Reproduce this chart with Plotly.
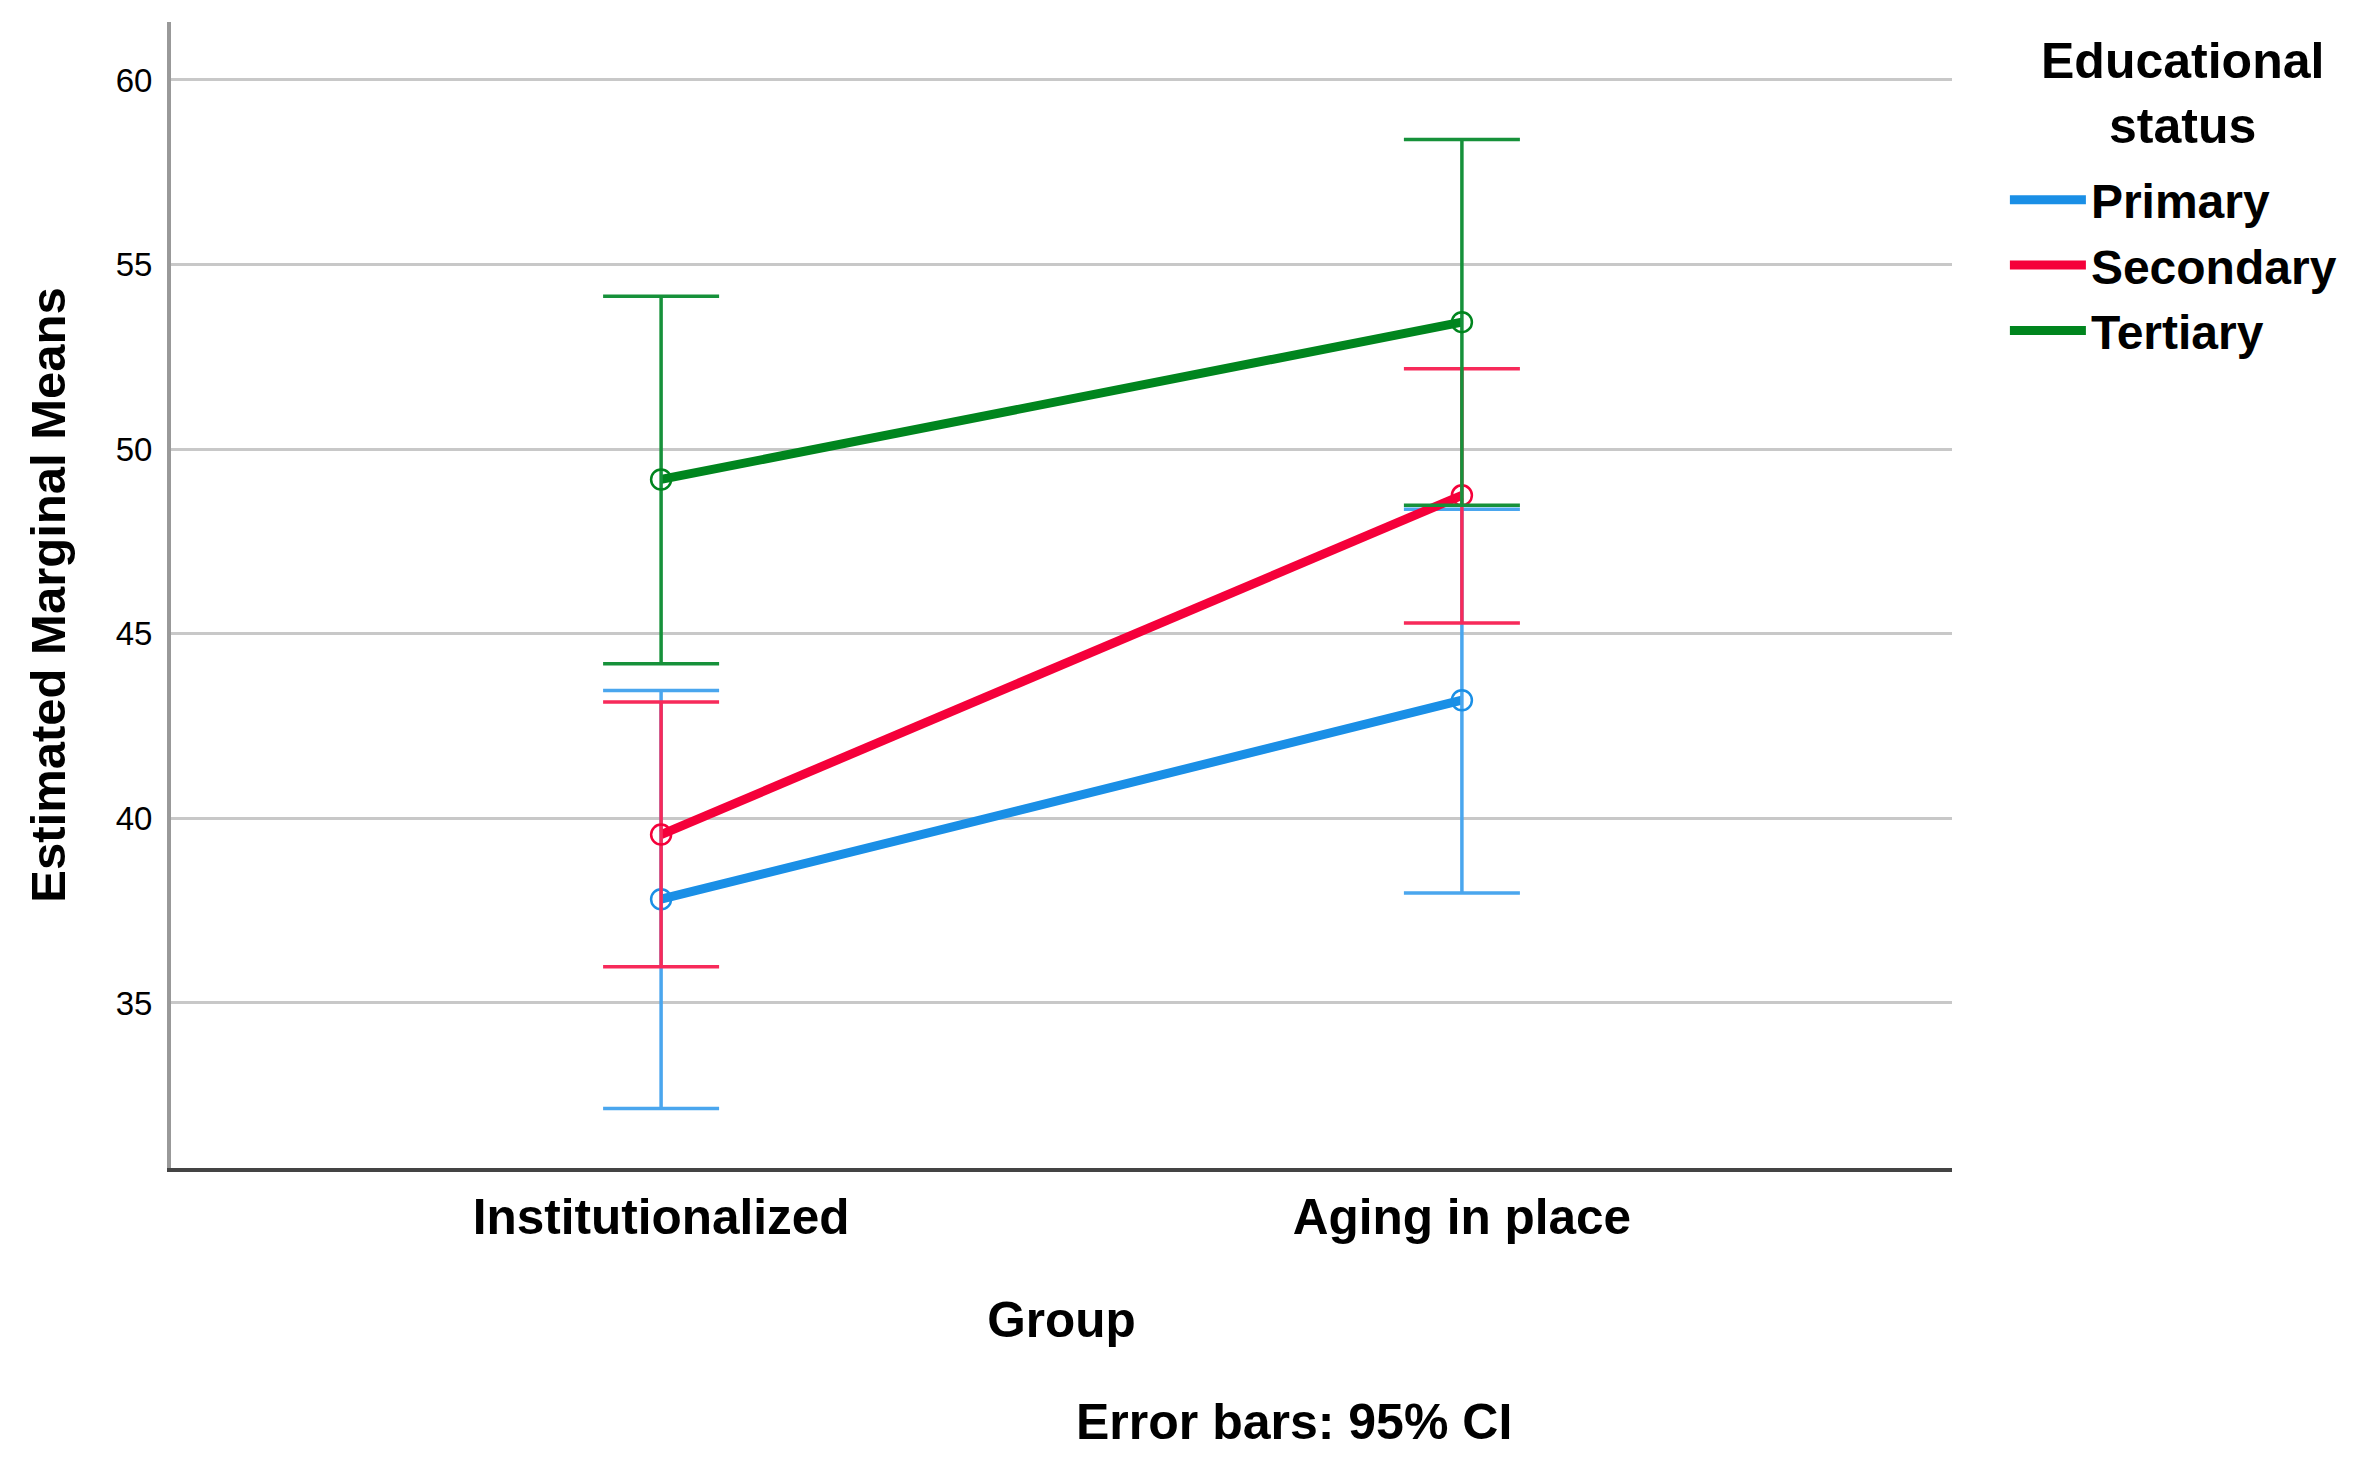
import plotly.graph_objects as go

groups = ["Institutionalized", "Aging in place"]
series_names = ["Primary", "Secondary", "Tertiary"]
primary_mean = [37.81, 43.20]
primary_low = [32.14, 37.98]
primary_high = [43.46, 48.37]
secondary_mean = [39.56, 48.75]
secondary_low = [35.98, 45.29]
secondary_high = [43.15, 52.18]
tertiary_mean = [49.18, 53.44]
tertiary_low = [44.19, 48.48]
tertiary_high = [54.14, 58.39]
y_ticks = [35, 40, 45, 50, 55, 60]
legend_title = "Educational<br>status"
error_note = "Error bars: 95% CI"

line_colors = ["#1a8fe6", "#f5003a", "#00851e"]
bar_colors = ["#4aa6ee", "#f72a5a", "#16913a"]

means = [primary_mean, secondary_mean, tertiary_mean]
lows = [primary_low, secondary_low, tertiary_low]
highs = [primary_high, secondary_high, tertiary_high]

FONT = "Liberation Sans, Arial, sans-serif"

# page body has an 8px margin; compensate so the plot lands where the reference has it
L, R, T, B = 163, 429, 14, 297
PW = 2373 - L - R
PH = 1457 - T - B

fig = go.Figure()
for name, m, lo, hi, lc, bc in zip(series_names, means, lows, highs, line_colors, bar_colors):
    fig.add_trace(go.Scatter(
        x=groups, y=m, name=name, mode="lines",
        line=dict(color=lc, width=9), showlegend=True,
    ))
    fig.add_trace(go.Scatter(
        x=groups, y=m, name=name, mode="markers",
        marker=dict(symbol="circle-open", size=20, color=lc, line=dict(width=2.5, color=lc)),
        error_y=dict(type="data", symmetric=False,
                     array=[h - v for h, v in zip(hi, m)],
                     arrayminus=[v - l for v, l in zip(m, lo)],
                     color=bc, thickness=3.5, width=58),
        showlegend=False,
    ))

annotations = [
    dict(text=legend_title, xref="paper", yref="paper",
         x=(2174 - L) / PW, y=1 - (86 - T) / PH, xanchor="center", yanchor="middle",
         align="center", showarrow=False, font=dict(size=50, family=FONT, weight="bold")),
    dict(text=error_note, xref="paper", yref="paper",
         x=(1294 - 8 - L) / PW, y=-(1422 - 8 - (T + PH)) / PH, xanchor="center", yanchor="middle",
         showarrow=False, font=dict(size=50, family=FONT, weight="bold")),
]

fig.update_layout(
    width=2373, height=1457,
    margin=dict(l=L, r=R, t=T, b=B),
    paper_bgcolor="white", plot_bgcolor="white",
    font=dict(family=FONT, color="black"),
    showlegend=True,
    legend=dict(
        x=1.0297, xanchor="left", y=1 - (154 - T) / PH, yanchor="top",
        font=dict(size=48, family=FONT, weight="bold"),
        itemwidth=76, tracegroupgap=0, bgcolor="rgba(0,0,0,0)",
    ),
    xaxis=dict(
        type="category", range=[-0.612, 1.612],
        showgrid=False, showline=True, linecolor="#444444", linewidth=4,
        ticks="", tickfont=dict(size=49.5, family=FONT, weight="bold"),
        ticklabelstandoff=3,
        title=dict(text="Group", font=dict(size=49.5, family=FONT, weight="bold"), standoff=60),
        zeroline=False,
    ),
    yaxis=dict(
        range=[30.53, 61.57], tickvals=y_ticks,
        showgrid=True, gridcolor="#c8c8c8", gridwidth=3,
        showline=True, linecolor="#999999", linewidth=4,
        ticks="", tickfont=dict(size=33, family=FONT), ticklabelstandoff=8,
        title=dict(text="Estimated Marginal Means", font=dict(size=49, family=FONT, weight="bold"), standoff=36),
        zeroline=False,
    ),
    annotations=annotations,
)

fig.write_html("out.html")
